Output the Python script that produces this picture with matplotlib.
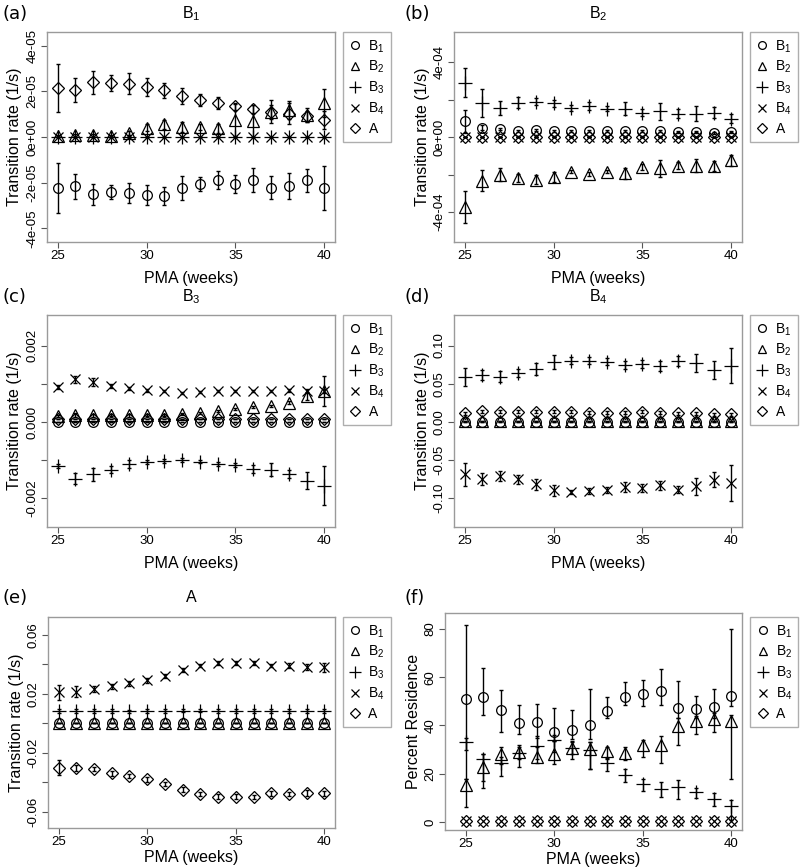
import numpy as np
import matplotlib.pyplot as plt
from matplotlib.lines import Line2D

plt.rcParams['font.family'] = ['Liberation Sans', 'DejaVu Sans']
plt.rcParams['mathtext.fontset'] = 'custom'
plt.rcParams['mathtext.rm'] = 'Liberation Sans'

W, H = 800, 867

pma = np.arange(25, 41)   # weeks

states = [r'B$_{\mathregular{1}}$', r'B$_{\mathregular{2}}$', r'B$_{\mathregular{3}}$',
          r'B$_{\mathregular{4}}$', 'A']
markers = ['o', '^', '+', 'x', 'D']
msizes = [7, 8, 10, 7, 6.5]

# ---- panel (a): transitions from B1 ----
a_B1 = np.array([-2.22, -2.16, -2.51, -2.41, -2.45, -2.55, -2.58, -2.23, -2.07, -1.87, -2.07, -1.90, -2.22, -2.15, -1.90, -2.23]) * 1e-5
a_B1_err = np.array([1.1, 0.55, 0.47, 0.31, 0.44, 0.43, 0.41, 0.51, 0.31, 0.40, 0.39, 0.53, 0.51, 0.58, 0.51, 0.97]) * 1e-5
a_B2 = np.array([0.05, 0.07, 0.07, 0.03, 0.18, 0.41, 0.55, 0.44, 0.44, 0.39, 0.73, 0.70, 1.10, 1.17, 0.95, 1.49]) * 1e-5
a_B2_err = np.array([0.05, 0.05, 0.05, 0.05, 0.1, 0.15, 0.2, 0.2, 0.15, 0.2, 0.7, 0.7, 0.5, 0.4, 0.3, 0.6]) * 1e-5
a_B3 = np.zeros(16)
a_B3_err = np.zeros(16)
a_B4 = np.zeros(16)
a_B4_err = np.zeros(16)
a_A = np.array([2.15, 2.07, 2.40, 2.36, 2.34, 2.19, 2.04, 1.80, 1.63, 1.49, 1.34, 1.23, 1.10, 1.02, 0.90, 0.76]) * 1e-5
a_A_err = np.array([1.05, 0.53, 0.50, 0.35, 0.45, 0.39, 0.34, 0.34, 0.26, 0.26, 0.15, 0.17, 0.3, 0.45, 0.25, 0.4]) * 1e-5

# ---- panel (b): transitions from B2 ----
b_B1 = np.array([0.84, 0.50, 0.41, 0.32, 0.36, 0.32, 0.30, 0.30, 0.30, 0.32, 0.32, 0.30, 0.27, 0.25, 0.21, 0.27]) * 1e-4
b_B1_err = np.array([0.6, 0.12, 0.06, 0.05, 0.05, 0.05, 0.05, 0.05, 0.05, 0.05, 0.05, 0.05, 0.05, 0.05, 0.05, 0.05]) * 1e-4
b_B2 = np.array([-3.71, -2.32, -2.00, -2.20, -2.27, -2.14, -1.84, -1.96, -1.84, -1.93, -1.61, -1.66, -1.52, -1.52, -1.55, -1.25]) * 1e-4
b_B2_err = np.array([0.85, 0.58, 0.37, 0.22, 0.22, 0.27, 0.1, 0.1, 0.1, 0.3, 0.15, 0.46, 0.18, 0.36, 0.27, 0.3]) * 1e-4
b_B3 = np.array([2.89, 1.82, 1.55, 1.82, 1.88, 1.79, 1.55, 1.64, 1.52, 1.52, 1.29, 1.38, 1.25, 1.25, 1.30, 0.98]) * 1e-4
b_B3_err = np.array([0.77, 0.76, 0.37, 0.29, 0.18, 0.2, 0.15, 0.22, 0.13, 0.34, 0.18, 0.45, 0.24, 0.38, 0.29, 0.25]) * 1e-4
b_B4 = np.zeros(16)
b_B4_err = np.zeros(16)
b_A = np.zeros(16)
b_A_err = np.zeros(16)

# ---- panel (c): transitions from B3 ----
c_B1 = np.full(16, 0.00001)
c_B1_err = np.zeros(16)
c_B2 = np.array([0.15, 0.18, 0.17, 0.18, 0.17, 0.18, 0.19, 0.20, 0.24, 0.29, 0.34, 0.40, 0.41, 0.50, 0.68, 0.81]) * 1e-3
c_B2_err = np.array([0.03, 0.05, 0.03, 0.03, 0.03, 0.03, 0.03, 0.03, 0.03, 0.03, 0.03, 0.03, 0.03, 0.04, 0.1, 0.4]) * 1e-3
c_B3 = np.array([-1.16, -1.49, -1.38, -1.25, -1.11, -1.05, -1.03, -1.01, -1.04, -1.10, -1.14, -1.23, -1.25, -1.36, -1.54, -1.67]) * 1e-3
c_B3_err = np.array([0.05, 0.15, 0.18, 0.1, 0.1, 0.05, 0.05, 0.05, 0.05, 0.05, 0.05, 0.1, 0.18, 0.1, 0.22, 0.5]) * 1e-3
c_B4 = np.array([0.92, 1.12, 1.05, 0.95, 0.88, 0.83, 0.81, 0.77, 0.79, 0.81, 0.81, 0.82, 0.82, 0.83, 0.82, 0.81]) * 1e-3
c_B4_err = np.array([0.05, 0.1, 0.1, 0.05, 0.05, 0.03, 0.03, 0.03, 0.03, 0.03, 0.03, 0.03, 0.03, 0.03, 0.05, 0.05]) * 1e-3
c_A = np.full(16, 0.00008)
c_A_err = np.zeros(16)

# ---- panel (d): transitions from B4 ----
d_B1 = np.zeros(16)
d_B1_err = np.zeros(16)
d_B2 = np.full(16, 0.0005)
d_B2_err = np.zeros(16)
d_B3 = np.array([0.0583, 0.0614, 0.0592, 0.0636, 0.0693, 0.0781, 0.0803, 0.0803, 0.0790, 0.0746, 0.0759, 0.0732, 0.0798, 0.0768, 0.0680, 0.0732])
d_B3_err = np.array([0.012, 0.007, 0.007, 0.005, 0.0077, 0.0088, 0.004, 0.004, 0.004, 0.005, 0.005, 0.006, 0.007, 0.012, 0.012, 0.023])
d_B4 = np.array([-0.0689, -0.0746, -0.0711, -0.0754, -0.0820, -0.0899, -0.0921, -0.0908, -0.0899, -0.0855, -0.0868, -0.0833, -0.0890, -0.0846, -0.0759, -0.0803])
d_B4_err = np.array([0.015, 0.008, 0.006, 0.006, 0.007, 0.007, 0.003, 0.004, 0.004, 0.006, 0.005, 0.006, 0.005, 0.011, 0.010, 0.023])
d_A = np.array([0.011, 0.014, 0.013, 0.013, 0.013, 0.013, 0.013, 0.012, 0.012, 0.012, 0.013, 0.012, 0.011, 0.011, 0.010, 0.010])
d_A_err = np.full(16, 0.002)

# ---- panel (e): transitions from A ----
e_B1 = np.zeros(16)
e_B1_err = np.zeros(16)
e_B2 = np.full(16, 0.0003)
e_B2_err = np.zeros(16)
e_B3 = np.array([0.0084, 0.0084, 0.0082, 0.0082, 0.0081, 0.0083, 0.0084, 0.0086, 0.0085, 0.0084, 0.0082, 0.0082, 0.0084, 0.0084, 0.0084, 0.0084])
e_B3_err = np.full(16, 0.0012)
e_B4 = np.array([0.021, 0.0215, 0.023, 0.025, 0.027, 0.029, 0.032, 0.036, 0.039, 0.041, 0.041, 0.041, 0.039, 0.039, 0.038, 0.038])
e_B4_err = np.array([0.005, 0.004, 0.002, 0.0015, 0.0015, 0.0015, 0.0012, 0.0015, 0.0012, 0.0015, 0.0015, 0.0015, 0.0012, 0.0015, 0.002, 0.003])
e_A = np.array([-0.030, -0.0305, -0.031, -0.034, -0.0357, -0.038, -0.041, -0.045, -0.048, -0.0497, -0.0497, -0.050, -0.0475, -0.048, -0.047, -0.0475])
e_A_err = np.array([0.005, 0.002, 0.0015, 0.0015, 0.0015, 0.0015, 0.0015, 0.0015, 0.0015, 0.0015, 0.0015, 0.0015, 0.0015, 0.0015, 0.002, 0.0015])

# ---- panel (f): percent residence (value, lower, upper) ----
f_B1 = np.array([50.9, 51.7, 46.5, 41.0, 41.4, 37.2, 38.2, 40.0, 46.1, 52.0, 53.1, 54.3, 47.2, 46.9, 47.6, 52.4])
f_B1_lo = np.array([18, 44.5, 37.5, 36.5, 35, 33.5, 34.5, 34.5, 43, 48.5, 48, 48.5, 43, 43, 43, 48])
f_B1_hi = np.array([81.5, 64, 54.5, 48.5, 48.7, 47.3, 46.3, 55, 52, 58, 58.7, 63.5, 58.3, 52.2, 55.3, 79.8])
f_B2 = np.array([15.4, 22.8, 28.1, 29.2, 26.8, 28.1, 30.6, 30.2, 29.5, 28.6, 32.0, 32.0, 39.6, 41.7, 42.6, 41.7])
f_B2_lo = np.array([6.3, 14, 24, 23, 24.5, 24, 26, 22, 26, 25.5, 27, 24.5, 32, 36.5, 37.5, 18])
f_B2_hi = np.array([18, 28, 31, 32, 31, 33.5, 33.5, 33, 31, 31, 34, 35.5, 43, 44, 45, 44.5])
f_B3 = np.array([33.1, 26.1, 24.4, 28.6, 31.7, 33.8, 30.6, 29.9, 24.4, 19.6, 15.7, 13.8, 14.5, 12.3, 9.7, 6.5])
f_B3_lo = np.array([30, 17, 19, 26, 26, 29, 28, 22, 21, 16.5, 13, 10.5, 9.5, 10, 6.5, 1])
f_B3_hi = np.array([35, 28, 27, 31, 35.5, 36, 33, 33, 26.5, 22, 18, 16.5, 17.5, 14, 12, 9])
f_B4 = np.full(16, 0.5)
f_A = np.full(16, 0.5)


def px_axes(l, t, r, b):
    return fig.add_axes([l / W, 1 - b / H, (r - l) / W, (b - t) / H])


def style_axes(ax, yticks, ylabels, ylim, xlim=(24.4, 40.6), xpad=5):
    ax.set_xlim(*xlim)
    ax.set_ylim(*ylim)
    ax.set_xticks([25, 30, 35, 40])
    ax.set_yticks(yticks)
    ax.set_yticklabels(ylabels, rotation=90, va='center')
    for s in ax.spines.values():
        s.set_color('#9a9a9a')
        s.set_linewidth(1.0)
    ax.tick_params(direction='out', length=4, width=0.8, color='#555555',
                   labelsize=9.5, pad=2)
    ax.set_xlabel('PMA (weeks)', fontsize=11.5, labelpad=xpad)


def add_legend(ax, y_anchor=1.0):
    handles = [Line2D([], [], marker=m, ls='none', mfc='none', mec='black',
                      ms=ms * 0.8, mew=0.9) for m, ms in zip(markers, msizes)]
    leg = ax.legend(handles, states, loc='upper left', bbox_to_anchor=(1.027, y_anchor),
                    frameon=True, fancybox=False, fontsize=10, handlelength=0.9,
                    handletextpad=0.5, labelspacing=0.32, borderpad=0.45,
                    borderaxespad=0)
    leg.get_frame().set_edgecolor('#9a9a9a')
    leg.get_frame().set_linewidth(1.0)


def draw_rates(ax, series):
    for (y, err), m, ms in zip(series, markers, msizes):
        ax.errorbar(pma, y, yerr=err, fmt='none', ecolor='black', elinewidth=1.0,
                    capsize=1.5, capthick=1.0)
    for (y, err), m, ms in zip(series, markers, msizes):
        ax.plot(pma, y, marker=m, ls='none', mfc='none', mec='black', ms=ms, mew=0.9)


fig = plt.figure(figsize=(W / 100, H / 100), dpi=100)

panels = [
    dict(box=(47, 32, 335, 242), label='(a)', lx=3, ly=14, title=states[0], xpad=6,
         data=[(a_B1, a_B1_err), (a_B2, a_B2_err), (a_B3, a_B3_err), (a_B4, a_B4_err), (a_A, a_A_err)],
         yt=[4e-5, 2e-5, 0, -2e-5, -4e-5], yl=['4e-05', '2e-05', '0e+00', '-2e-05', '-4e-05'],
         ylim=(-4.6e-5, 4.6e-5)),
    dict(box=(454, 32, 742, 242), label='(b)', lx=405, ly=14, title=states[1], xpad=6,
         data=[(b_B1, b_B1_err), (b_B2, b_B2_err), (b_B3, b_B3_err), (b_B4, b_B4_err), (b_A, b_A_err)],
         yt=[4e-4, 2e-4, 0, -2e-4, -4e-4], yl=['4e-04', '', '0e+00', '', '-4e-04'],
         ylim=(-5.6e-4, 5.6e-4)),
    dict(box=(47, 315, 335, 527), label='(c)', lx=3, ly=297, title=states[2], xpad=6,
         data=[(c_B1, c_B1_err), (c_B2, c_B2_err), (c_B3, c_B3_err), (c_B4, c_B4_err), (c_A, c_A_err)],
         yt=[0.002, 0.001, 0, -0.001, -0.002], yl=['0.002', '', '0.000', '', '-0.002'],
         ylim=(-0.00276, 0.00281)),
    dict(box=(454, 315, 742, 527), label='(d)', lx=405, ly=297, title=states[3], xpad=6,
         data=[(d_B1, d_B1_err), (d_B2, d_B2_err), (d_B3, d_B3_err), (d_B4, d_B4_err), (d_A, d_A_err)],
         yt=[0.10, 0.05, 0, -0.05, -0.10], yl=['0.10', '0.05', '0.00', '-0.05', '-0.10'],
         ylim=(-0.138, 0.140)),
    dict(box=(48, 617, 335, 828), label='(e)', lx=3, ly=598, title='A', xpad=1,
         data=[(e_B1, e_B1_err), (e_B2, e_B2_err), (e_B3, e_B3_err), (e_B4, e_B4_err), (e_A, e_A_err)],
         yt=[0.06, 0.04, 0.02, 0, -0.02, -0.04, -0.06], yl=['0.06', '', '0.02', '', '-0.02', '', '-0.06'],
         ylim=(-0.071, 0.072)),
]

for p in panels:
    ax = px_axes(*p['box'])
    draw_rates(ax, p['data'])
    style_axes(ax, p['yt'], p['yl'], p['ylim'], xpad=p['xpad'])
    ax.set_ylabel('Transition rate (1/s)', fontsize=11.5, labelpad=3)
    l, t, r, b = p['box']
    fig.text((l + r) / 2 / W, 1 - p['ly'] / H, p['title'], ha='center', va='center', fontsize=11.5)
    fig.text(p['lx'] / W, 1 - p['ly'] / H, p['label'], ha='left', va='center', fontsize=13,
             family='DejaVu Sans')
    add_legend(ax)

# ---- panel (f) ----
ax = px_axes(445, 613, 742, 830)
f_series = [
    (f_B1, f_B1_lo, f_B1_hi),
    (f_B2, f_B2_lo, f_B2_hi),
    (f_B3, f_B3_lo, f_B3_hi),
]
for y, lo, hi in f_series:
    ax.errorbar(pma, y, yerr=[y - lo, hi - y], fmt='none', ecolor='black',
                elinewidth=1.0, capsize=1.5, capthick=1.0)
for y, m, ms in zip([f_B1, f_B2, f_B3, f_B4, f_A], markers, msizes):
    ax.plot(pma, y, marker=m, ls='none', mfc='none', mec='black', ms=ms, mew=0.9)
style_axes(ax, [0, 20, 40, 60, 80], ['0', '20', '40', '60', '80'], (-3.3, 86.6),
           xlim=(23.83, 40.6), xpad=1)
ax.set_ylabel('Percent Residence', fontsize=11.5, labelpad=3)
fig.text(405 / W, 1 - 598 / H, '(f)', ha='left', va='center', fontsize=13, family='DejaVu Sans')
add_legend(ax, y_anchor=0.982)

fig.savefig('out.png', dpi=100)
